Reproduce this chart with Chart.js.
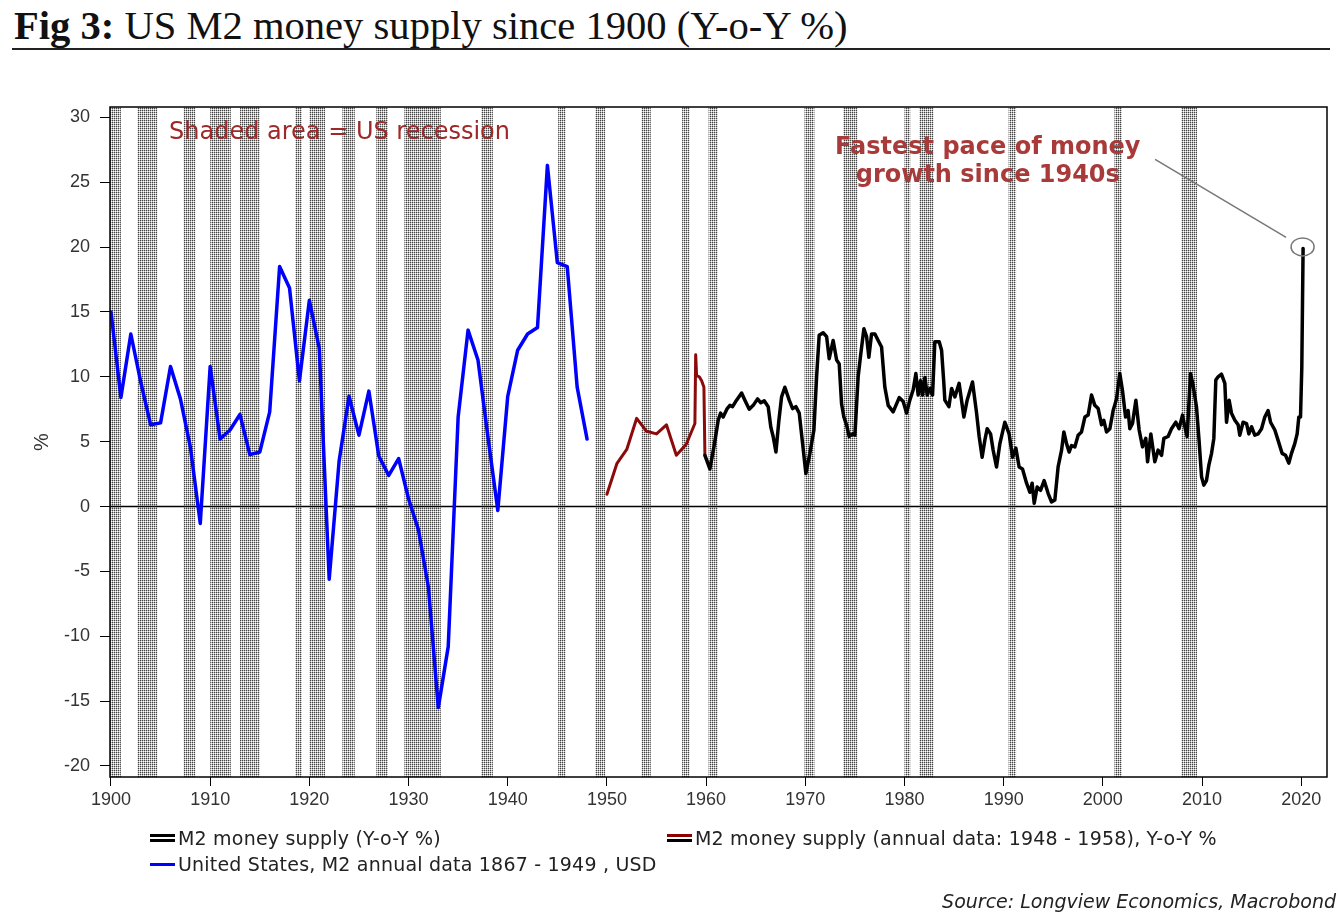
<!DOCTYPE html>
<html>
<head>
<meta charset="utf-8">
<script src="https://cdn.jsdelivr.net/npm/chart.js@4.4.1/dist/chart.umd.min.js"></script>
<style>
    body { margin: 0; background: #fff; width: 1341px; height: 917px; overflow: hidden; position: relative; font-family: 'DejaVu Sans', sans-serif; }
    #title { position: absolute; left: 14px; top: 6px; font-family: 'Liberation Serif', serif; font-size: 40.6px; line-height: 40px; color: #111; white-space: nowrap; }
    #rule { position: absolute; left: 12px; top: 48px; width: 1318px; border-top: 2px solid #222; }
    #chart-wrap { position: absolute; left: 0; top: 0; width: 1341px; height: 917px; }
    .legend-item { position: absolute; font-size: 19px; line-height: 22px; color: #222; white-space: nowrap; letter-spacing: 0.2px; }
    .mk { display: inline-block; width: 25px; vertical-align: middle; margin-right: 3px; margin-top: -3px; }
    .mk-black { height: 2px; border-top: 3px solid #000; border-bottom: 3px solid #000; }
    .mk-red { height: 2px; border-top: 3px solid #8b0000; border-bottom: 3px solid #000; }
    .mk-blue { height: 0; border-top: 3px solid #0000ff; }
    #source { position: absolute; right: 5px; top: 890px; font-size: 19px; line-height: 22px; font-style: italic; color: #222; }
</style>
</head>
<body>
<div id="title"><b>Fig 3:</b> US M2 money supply since 1900 (Y-o-Y %)</div>
<div id="rule"></div>
<div id="chart-wrap"><canvas id="m2-chart" width="1341" height="917"></canvas></div>
<div class="legend-item" style="left:150px; top:827px;"><span class="mk mk-black"></span>M2 money supply (Y-o-Y %)</div>
<div class="legend-item" style="left:667px; top:827px;"><span class="mk mk-red"></span>M2 money supply (annual data: 1948 - 1958), Y-o-Y %</div>
<div class="legend-item" style="left:150px; top:853px;"><span class="mk mk-blue"></span>United States, M2 annual data 1867 - 1949 , USD</div>
<div id="source">Source: Longview Economics, Macrobond</div>
<script>
// annual series 1900-1948 (blue)
const blueYears = [1900,1901,1902,1903,1904,1905,1906,1907,1908,1909,1910,1911,1912,1913,1914,1915,1916,1917,1918,1919,
    1920,1921,1922,1923,1924,1925,1926,1927,1928,1929,1930,1931,1932,1933,1934,1935,1936,1937,1938,1939,
    1940,1941,1942,1943,1944,1945,1946,1947,1948];
const blueValues = [15.0,8.4,13.3,9.6,6.3,6.45,10.8,8.3,4.6,-1.3,10.8,5.2,5.9,7.1,4.0,4.2,7.3,18.5,16.85,9.7,
    15.9,12.2,-5.6,3.5,8.5,5.5,8.9,3.9,2.4,3.7,0.6,-1.8,-6.2,-15.5,-10.8,6.9,13.6,11.3,5.4,-0.3,
    8.5,12.05,13.3,13.8,26.3,18.8,18.5,9.2,5.2];

// annual data 1948-1958 (dark red)
const redYears = [1950,1951,1952,1953,1954,1955,1956,1957,1958,1958.87,1958.95,1959.04,1959.31,1959.55,1959.78,1959.88];
const redValues = [0.95,3.3,4.4,6.8,5.8,5.6,6.3,3.95,4.8,6.4,11.7,10.1,10.0,9.7,9.2,3.95];

// M2 Y-o-Y % (black)
const blackYears = [
    1959.88,1960.38,1960.79,1961.22,1961.46,1961.72,1962.13,1962.40,1962.67,1963.07,1963.58,1963.91,1964.35,1964.75,1965.19,1965.52,1965.86,1966.26,1966.53,1966.76,1967.04,
    1967.34,1967.61,1967.94,1968.38,1968.72,1969.05,1969.39,1969.73,1970.06,1970.46,1970.87,
    1971.14,1971.40,1971.80,1972.15,1972.41,1972.81,1973.16,1973.42,1973.66,1973.89,1974.16,1974.43,1974.77,1975.00,
    1975.33,1975.60,1975.91,1976.18,1976.41,1976.68,1977.02,1977.35,1977.69,1978.02,1978.36,1978.86,1979.47,1979.87,
    1980.21,1980.54,1980.88,1981.15,1981.38,1981.62,1981.82,1982.06,1982.29,1982.56,1982.83,1983.06,1983.50,1983.74,1983.97,1984.07,1984.48,1984.75,1985.08,1985.51,1985.99,1986.32,1986.86,
    1987.27,1987.53,1987.83,1988.10,1988.34,1988.68,1988.94,1989.28,1989.62,1990.12,1990.55,1990.90,1991.23,1991.56,1991.90,1992.31,1992.64,1992.87,1993.08,1993.38,1993.72,1994.08,1994.49,1994.83,1995.16,
    1995.49,1995.84,1996.07,1996.34,1996.60,1996.84,1997.18,1997.51,1997.85,1998.19,1998.52,1998.86,1999.19,1999.53,1999.87,2000.10,2000.37,2000.71,
    2001.04,2001.38,2001.71,2001.98,2002.29,2002.55,2002.72,2002.99,2003.33,2003.66,2004.00,2004.33,2004.51,2004.84,2005.24,2005.57,2005.92,2006.15,2006.58,2006.92,2007.36,2007.69,2008.03,2008.27,2008.50,
    2008.84,2009.10,2009.44,2009.71,2009.95,2010.18,2010.45,2010.69,2010.96,2011.19,2011.39,2011.62,2011.96,2012.30,2012.47,2012.73,2012.97,
    2013.31,2013.64,2013.81,2014.14,2014.49,2014.72,2014.99,2015.32,2015.66,2016.00,2016.33,2016.66,2016.91,2017.34,2017.67,2018.07,2018.42,2018.75,2019.02,2019.35,2019.59,2019.76,2019.93,2020.06,2020.19
];
const blackValues = [
    3.95,2.9,4.6,6.65,7.2,6.9,7.55,7.8,7.7,8.2,8.75,8.2,7.5,7.8,8.3,8.0,8.15,7.7,6.1,5.4,4.2,
    6.65,8.45,9.2,8.2,7.55,7.7,7.2,4.85,2.55,4.1,5.9,
    10.0,13.2,13.4,13.1,11.4,12.8,11.3,11.0,7.9,6.9,6.3,5.4,5.6,5.5,
    10.0,11.8,13.7,13.1,11.5,13.3,13.3,12.8,12.3,9.2,7.8,7.3,8.4,8.1,
    7.2,8.2,9.0,10.25,8.6,9.7,8.6,9.95,8.6,9.1,8.6,12.7,12.7,12.05,9.5,8.2,7.7,9.1,8.45,9.5,6.9,8.2,9.6,
    7.2,5.4,3.8,5.1,6.0,5.6,4.35,3.05,4.85,6.5,5.6,3.8,4.5,3.05,2.9,1.8,1.1,1.8,0.25,1.5,1.25,2.0,1.0,0.35,0.5,
    3.05,4.35,5.75,4.85,4.2,4.7,4.6,5.5,5.75,6.9,7.05,8.6,7.8,7.55,6.3,6.65,5.75,6.0,
    7.4,8.3,10.25,8.95,6.9,7.4,6.0,6.4,8.2,5.9,4.6,5.25,3.45,5.6,3.45,4.35,3.95,5.25,5.4,6.0,6.5,6.0,7.05,6.15,5.4,
    10.25,9.35,7.7,5.0,2.3,1.65,2.0,3.2,4.1,5.25,9.75,10.0,10.2,9.5,6.5,8.2,7.2,
    6.65,6.3,5.5,6.5,6.4,5.6,6.15,5.5,5.6,6.0,6.9,7.4,6.5,5.9,5.1,4.1,3.95,3.35,4.1,4.85,5.6,6.9,6.9,10.75,19.9
];

// US recessions (NBER), decimal years
const recessionStarts = [1899.42,1902.67,1907.33,1910.0,1913.0,1918.58,1920.0,1923.33,1926.75,1929.58,1937.33,1945.08,
    1948.83,1953.5,1957.58,1960.25,1969.92,1973.83,1980.0,1981.5,1990.5,2001.17,2007.92];
const recessionEnds = [1901.0,1904.67,1908.5,1912.08,1915.0,1919.25,1921.58,1924.58,1927.92,1933.25,1938.5,1945.83,
    1949.83,1954.42,1958.33,1961.17,1970.92,1975.25,1980.58,1982.92,1991.25,2001.92,2009.5];

const xTicks = [1900,1910,1920,1930,1940,1950,1960,1970,1980,1990,2000,2010,2020];
const yTicks = [-20,-15,-10,-5,0,5,10,15,20,25,30];

const recessionNote = 'Shaded area = US recession';
const calloutLines = ['Fastest pace of money', 'growth since 1940s'];

function toPoints(xs, ys) {
    return xs.map((x, i) => ({ x: x, y: ys[i] }));
}

function makeStipple(ctx) {
    const c = document.createElement('canvas');
    c.width = 2; c.height = 2;
    const p = c.getContext('2d');
    p.fillStyle = '#fff'; p.fillRect(0, 0, 2, 2);
    p.fillStyle = '#444'; p.fillRect(0, 0, 1, 1);
    p.fillStyle = '#bbb'; p.fillRect(1, 0, 1, 1); p.fillRect(0, 1, 1, 1);
    return ctx.createPattern(c, 'repeat');
}

const decorations = {
    id: 'decorations',
    beforeDatasetsDraw(chart) {
        const { ctx, chartArea, scales } = chart;
        ctx.save();
        ctx.beginPath();
        ctx.rect(chartArea.left, chartArea.top, chartArea.width, chartArea.height);
        ctx.clip();
        ctx.fillStyle = makeStipple(ctx);
        recessionStarts.forEach((s, i) => {
            const x1 = scales.x.getPixelForValue(s);
            const x2 = scales.x.getPixelForValue(recessionEnds[i]);
            ctx.fillRect(x1, chartArea.top, x2 - x1, chartArea.height);
        });
        const y0 = scales.y.getPixelForValue(0);
        ctx.strokeStyle = '#000';
        ctx.lineWidth = 1.5;
        ctx.beginPath();
        ctx.moveTo(chartArea.left, y0);
        ctx.lineTo(chartArea.right, y0);
        ctx.stroke();
        ctx.restore();
    },
    afterDatasetsDraw(chart) {
        const { ctx, chartArea, scales } = chart;
        ctx.save();
        // frame
        ctx.strokeStyle = '#000';
        ctx.lineWidth = 1.5;
        ctx.strokeRect(chartArea.left, chartArea.top, chartArea.width, chartArea.height);

        // recession note
        ctx.font = '24px "DejaVu Sans", sans-serif';
        ctx.fillStyle = '#a02828';
        ctx.textAlign = 'left';
        ctx.textBaseline = 'alphabetic';
        ctx.fillText(recessionNote, scales.x.getPixelForValue(1905.85), scales.y.getPixelForValue(28.3));

        // callout
        ctx.font = 'bold 24px "DejaVu Sans", sans-serif';
        ctx.fillStyle = '#a83a3a';
        ctx.textAlign = 'center';
        const cx = scales.x.getPixelForValue(1988.4);
        const cy = scales.y.getPixelForValue(27.2);
        calloutLines.forEach((t, i) => ctx.fillText(t, cx, cy + i * 28));

        // circle round the last point and leader line
        const last = blackYears.length - 1;
        const px = scales.x.getPixelForValue(blackYears[last]);
        const py = scales.y.getPixelForValue(blackValues[last]);
        ctx.strokeStyle = '#777';
        ctx.lineWidth = 1.5;
        ctx.beginPath();
        ctx.ellipse(px - 0.5, py - 1.5, 11.5, 9, 0, 0, Math.PI * 2);
        ctx.stroke();
        ctx.beginPath();
        ctx.moveTo(px - 148, py - 89);
        ctx.lineTo(px - 17, py - 11);
        ctx.stroke();
        ctx.restore();
    }
};

document.addEventListener('DOMContentLoaded', function() {
    const ctx = document.getElementById('m2-chart').getContext('2d');
    new Chart(ctx, {
        type: 'line',
        data: {
            datasets: [
                {
                    label: 'M2 money supply (Y-o-Y %)',
                    data: toPoints(blackYears, blackValues),
                    borderColor: '#000',
                    borderWidth: 3.5
                },
                {
                    label: 'M2 money supply (annual data: 1948 - 1958), Y-o-Y %',
                    data: toPoints(redYears, redValues),
                    borderColor: '#8b0a0a',
                    borderWidth: 3
                },
                {
                    label: 'United States, M2 annual data 1867 - 1949 , USD',
                    data: toPoints(blueYears, blueValues),
                    borderColor: '#0000ff',
                    borderWidth: 3.5
                }
            ]
        },
        options: {
            responsive: false,
            animation: false,
            layout: { padding: { left: 30, right: 14, top: 107, bottom: 100 } },
            elements: {
                point: { radius: 0 },
                line: { tension: 0, borderJoinStyle: 'round', borderCapStyle: 'round' }
            },
            plugins: {
                legend: { display: false },
                tooltip: { enabled: false }
            },
            scales: {
                x: {
                    type: 'linear',
                    min: 1899.9,
                    max: 2022.6,
                    afterFit: scale => { scale.height = 40; },
                    afterBuildTicks: scale => { scale.ticks = xTicks.map(v => ({ value: v })); },
                    border: { display: false },
                    grid: { drawOnChartArea: false, drawTicks: true, tickLength: 9, color: '#000', lineWidth: 1 },
                    ticks: {
                        padding: 3,
                        maxRotation: 0,
                        autoSkip: false,
                        color: '#333',
                        font: { family: '"Liberation Sans", Arial, sans-serif', size: 18 },
                        callback: v => String(v)
                    }
                },
                y: {
                    min: -20.85,
                    max: 30.8,
                    afterFit: scale => { scale.width = 80; },
                    afterBuildTicks: scale => { scale.ticks = yTicks.map(v => ({ value: v })); },
                    border: { display: false },
                    grid: { drawOnChartArea: false, drawTicks: true, tickLength: 10, color: '#000', lineWidth: 1 },
                    ticks: {
                        padding: 10,
                        color: '#333',
                        font: { family: '"Liberation Sans", Arial, sans-serif', size: 18 },
                        callback: v => String(v)
                    },
                    title: {
                        display: true,
                        text: '%',
                        color: '#333',
                        padding: 0,
                        font: { family: '"Liberation Sans", Arial, sans-serif', size: 20 }
                    }
                }
            }
        },
        plugins: [decorations]
    });
});
</script>
</body>
</html>
